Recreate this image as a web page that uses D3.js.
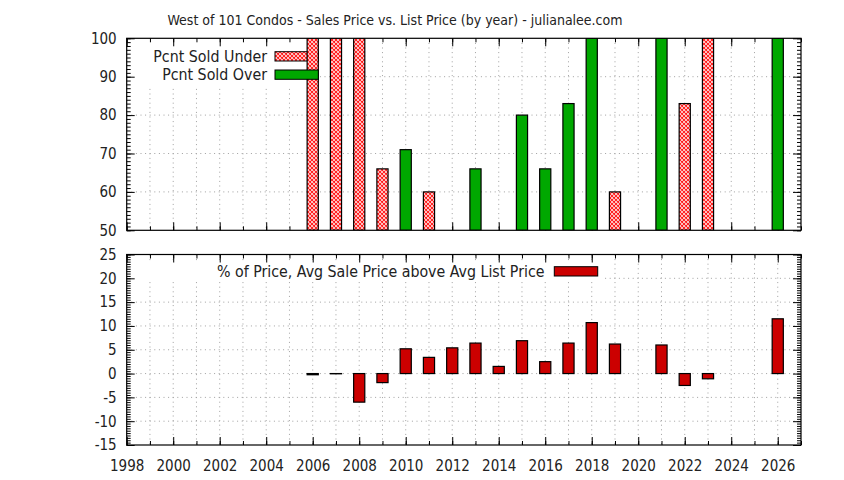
<!DOCTYPE html>
<html>
<head>
<meta charset="utf-8">
<script src="https://cdn.jsdelivr.net/npm/d3@7"></script>
<style>
  body { margin: 0; background: #fff; }
  text { font-family: "DejaVu Sans Condensed", "DejaVu Sans", sans-serif; fill: #222; }
</style>
</head>
<body>
<svg id="chart" width="844" height="480"></svg>
<script>
// values
const underYears = [2006, 2007, 2008, 2009, 2011, 2019, 2022, 2023];
const underPcnt  = [100, 100, 100, 66, 60, 60, 83, 100];

const overYears = [2010, 2013, 2015, 2016, 2017, 2018, 2021, 2026];
const overPcnt  = [71, 66, 80, 66, 83, 100, 100, 100];

const diffYears = [2006, 2007, 2008, 2009, 2010, 2011, 2012, 2013, 2014, 2015,
                   2016, 2017, 2018, 2019, 2021, 2022, 2023, 2026];
const diffPcnt  = [-0.25, -0.05, -6, -1.9, 5.2, 3.4, 5.4, 6.4, 1.5, 6.9,
                   2.5, 6.4, 10.7, 6.2, 6.0, -2.5, -1.1, 11.5];

const yearTicks = d3.range(1998, 2027, 2);
const minorYears = d3.range(1998, 2028, 1);
const topTicks = [50, 60, 70, 80, 90, 100];
const bottomTicks = [-15, -10, -5, 0, 5, 10, 15, 20, 25];

const titleText = "West of 101 Condos - Sales Price vs. List Price (by year) - julianalee.com";
const underLabel = "Pcnt Sold Under";
const overLabel = "Pcnt Sold Over";
const diffLabel = "% of Price, Avg Sale Price above Avg List Price";

const svg = d3.select("#chart");
const tickFont = 15;
const keyFont = 15.8;
const greenFill = "#00a800";
const redFill = "#cc0000";
const gridColor = "#a0a0a0";
const barW = 0.48;   // in years

let left = 126.7, right = 801;
let x = d3.scaleLinear().domain([1998, 2027]).range([left, right]);
let plainNum = d => String(d);   // gnuplot uses a plain hyphen for negatives

// hatch pattern for the "under" bars
let defs = svg.append("defs");
let pat = defs.append("pattern")
    .attr("id", "hatch")
    .attr("patternUnits", "userSpaceOnUse")
    .attr("width", 4).attr("height", 4);
pat.append("rect").attr("width", 4).attr("height", 4).attr("fill", "#fff");
pat.append("path")
    .attr("d", "M-1,1 L1,-1 M0,4 L4,0 M3,5 L5,3 M-1,3 L1,5 M0,0 L4,4 M3,-1 L5,1")
    .attr("stroke", "#ff1a1a").attr("stroke-width", 1.1);

svg.append("text")
    .attr("x", 395).attr("y", 25)
    .attr("text-anchor", "middle")
    .style("font-size", "14px")
    .text(titleText);

function styleAxis(g) {
    g.select(".domain").remove();
    g.selectAll("line").attr("stroke", "#000");
    g.selectAll("text")
        .attr("font-family", null)
        .style("font-size", tickFont + "px")
        .attr("fill", "#222");
    g.attr("font-family", null).attr("font-size", null);
}

function drawFrame(y, top, bottom, yMajor, yMinor, showYears, keyBox) {
    // grid
    let grid = svg.append("g");
    grid.selectAll("line.v")
        .data(minorYears.filter(d => d > 1998 && d < 2027))
        .enter().append("line")
        .attr("x1", d => x(d)).attr("x2", d => x(d))
        .attr("y1", top).attr("y2", bottom);
    grid.selectAll("line.h")
        .data(yMajor.slice(1, -1))
        .enter().append("line")
        .attr("x1", left).attr("x2", right)
        .attr("y1", d => y(d)).attr("y2", d => y(d));
    grid.selectAll("line")
        .attr("stroke", gridColor)
        .attr("stroke-width", 1)
        .attr("stroke-dasharray", "1,3.6");

    // key area hides the grid
    svg.append("rect")
        .attr("x", keyBox[0]).attr("y", keyBox[1])
        .attr("width", keyBox[2] - keyBox[0]).attr("height", keyBox[3] - keyBox[1])
        .attr("fill", "#fff");

    // ticks, all pointing inward
    let gb = svg.append("g").attr("transform", "translate(0," + bottom + ")")
        .call(d3.axisBottom(x).tickValues(yearTicks).tickSize(-8).tickPadding(15.5)
            .tickFormat(showYears ? plainNum : ""));
    styleAxis(gb);
    let gbm = svg.append("g").attr("transform", "translate(0," + bottom + ")")
        .call(d3.axisBottom(x).tickValues(minorYears).tickSize(-4).tickFormat(""));
    styleAxis(gbm);
    let gt = svg.append("g").attr("transform", "translate(0," + top + ")")
        .call(d3.axisTop(x).tickValues(yearTicks).tickSize(-8).tickFormat(""));
    styleAxis(gt);
    let gtm = svg.append("g").attr("transform", "translate(0," + top + ")")
        .call(d3.axisTop(x).tickValues(minorYears).tickSize(-4).tickFormat(""));
    styleAxis(gtm);

    let gl = svg.append("g").attr("transform", "translate(" + left + ",0)")
        .call(d3.axisLeft(y).tickValues(yMajor).tickSize(-8).tickPadding(10).tickFormat(plainNum));
    styleAxis(gl);
    let glm = svg.append("g").attr("transform", "translate(" + left + ",0)")
        .call(d3.axisLeft(y).tickValues(yMinor).tickSize(-4).tickFormat(""));
    styleAxis(glm);
    let gr = svg.append("g").attr("transform", "translate(" + right + ",0)")
        .call(d3.axisRight(y).tickValues(yMajor).tickSize(-8).tickFormat(""));
    styleAxis(gr);
    let grm = svg.append("g").attr("transform", "translate(" + right + ",0)")
        .call(d3.axisRight(y).tickValues(yMinor).tickSize(-4).tickFormat(""));
    styleAxis(grm);
}

function drawBorder(top, bottom) {
    svg.append("rect")
        .attr("x", left).attr("y", top)
        .attr("width", right - left).attr("height", bottom - top)
        .attr("fill", "none").attr("stroke", "#000").attr("stroke-width", 1.2);
}

// ---------- top panel ----------
let topY0 = 38.3, topY1 = 230.3;
let yTop = d3.scaleLinear().domain([50, 100]).range([topY1, topY0]);
drawFrame(yTop, topY0, topY1, topTicks, d3.range(50, 101, 1), false, [127.5, 39, 320, 88]);

let clip = defs.append("clipPath").attr("id", "clipTop");
clip.append("rect").attr("x", left).attr("y", topY0).attr("width", right - left).attr("height", topY1 - topY0);

let keyX0 = 275, keyX1 = 318.3, keyTextX = 267;

// key sample for "under" is drawn before its bars, as in the original
svg.append("text")
    .attr("x", keyTextX).attr("y", 56.5).attr("dy", "0.35em")
    .attr("text-anchor", "end").style("font-size", keyFont + "px")
    .text(underLabel);
svg.append("rect")
    .attr("x", keyX0).attr("y", 51.7).attr("width", keyX1 - keyX0).attr("height", 9.3)
    .attr("fill", "url(#hatch)").attr("stroke", "#000").attr("stroke-width", 1);

let topBars = svg.append("g").attr("clip-path", "url(#clipTop)");
topBars.selectAll("rect.under")
    .data(underYears.map((yr, i) => ({yr: yr, v: underPcnt[i]})))
    .enter().append("rect")
    .attr("class", "under")
    .attr("x", d => x(d.yr - barW / 2))
    .attr("width", d => x(d.yr + barW / 2) - x(d.yr - barW / 2))
    .attr("y", d => yTop(d.v))
    .attr("height", d => topY1 - yTop(d.v))
    .attr("fill", "url(#hatch)")
    .attr("stroke", "#000").attr("stroke-width", 1.2);

svg.append("text")
    .attr("x", keyTextX).attr("y", 74.7).attr("dy", "0.35em")
    .attr("text-anchor", "end").style("font-size", keyFont + "px")
    .text(overLabel);
svg.append("rect")
    .attr("x", keyX0).attr("y", 70).attr("width", keyX1 - keyX0).attr("height", 9.3)
    .attr("fill", greenFill).attr("stroke", "#000").attr("stroke-width", 1);

topBars.selectAll("rect.over")
    .data(overYears.map((yr, i) => ({yr: yr, v: overPcnt[i]})))
    .enter().append("rect")
    .attr("class", "over")
    .attr("x", d => x(d.yr - barW / 2))
    .attr("width", d => x(d.yr + barW / 2) - x(d.yr - barW / 2))
    .attr("y", d => yTop(d.v))
    .attr("height", d => topY1 - yTop(d.v))
    .attr("fill", greenFill)
    .attr("stroke", "#000").attr("stroke-width", 1.2);

drawBorder(topY0, topY1);

// ---------- bottom panel ----------
let botY0 = 254.5, botY1 = 445;
let yBot = d3.scaleLinear().domain([-15, 25]).range([botY1, botY0]);
drawFrame(yBot, botY0, botY1, bottomTicks, d3.range(-15, 25.01, 0.5), true, [127.5, 262, 602, 281]);

svg.append("text")
    .attr("x", 544.5).attr("y", 271.5).attr("dy", "0.35em")
    .attr("text-anchor", "end").style("font-size", keyFont + "px")
    .text(diffLabel);
svg.append("rect")
    .attr("x", 554.3).attr("y", 266.7).attr("width", 43.4).attr("height", 9.3)
    .attr("fill", redFill).attr("stroke", "#000").attr("stroke-width", 1);

svg.append("g").selectAll("rect")
    .data(diffYears.map((yr, i) => ({yr: yr, v: diffPcnt[i]})))
    .enter().append("rect")
    .attr("x", d => x(d.yr - barW / 2))
    .attr("width", d => x(d.yr + barW / 2) - x(d.yr - barW / 2))
    .attr("y", d => Math.min(yBot(d.v), yBot(0)))
    .attr("height", d => Math.abs(yBot(d.v) - yBot(0)))
    .attr("fill", redFill)
    .attr("stroke", "#000").attr("stroke-width", 1.2);

drawBorder(botY0, botY1);
</script>
</body>
</html>
